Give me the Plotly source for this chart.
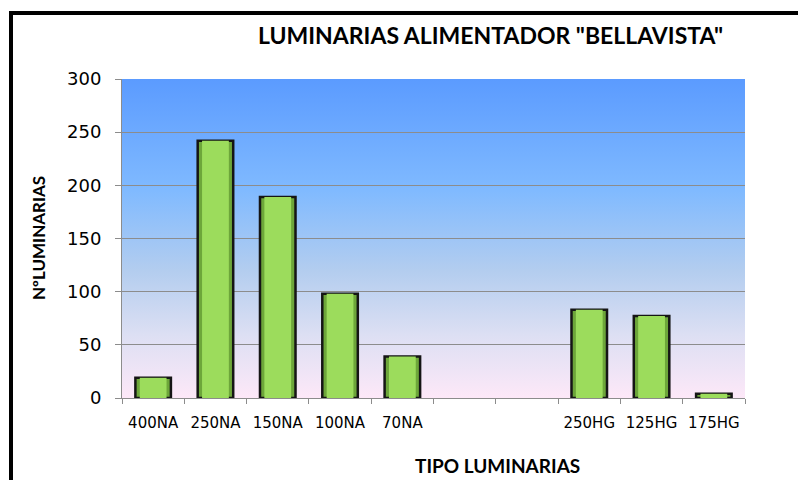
import plotly.graph_objects as go

# datos
tipos = ["400NA", "250NA", "150NA", "100NA", "70NA", " ", "  ", "250HG", "125HG", "175HG"]
cantidades = [19, 242, 189, 98, 39, None, None, 83, 77, 4]

titulo = 'LUMINARIAS ALIMENTADOR "BELLAVISTA"'
titulo_x = "TIPO LUMINARIAS"
titulo_y = "NºLUMINARIAS"

W, H = 806, 480
OFF = 8  # margen del body de la página
ML, MR, MT, MB = 122 - OFF, 61 + OFF, 79 - OFF, 82 + OFF
PW, PH = W - ML - MR, H - MT - MB


# pasar píxeles de la captura a coordenadas "paper"
def px_x(px):
    return (px - OFF - ML) / PW


def px_y(py):
    return (H - MB - (py - OFF)) / PH


# fondo degradado (azul arriba, rosado abajo)
svg = (
    "<svg xmlns='http://www.w3.org/2000/svg' width='10' height='100' preserveAspectRatio='none'>"
    "<defs><linearGradient id='g' x1='0' y1='0' x2='0' y2='1'>"
    "<stop offset='0' stop-color='#5b9bff'/>"
    "<stop offset='0.35' stop-color='#80baff'/>"
    "<stop offset='0.6' stop-color='#b3cdef'/>"
    "<stop offset='0.8' stop-color='#dcdff3'/>"
    "<stop offset='1' stop-color='#fde8f8'/>"
    "</linearGradient></defs>"
    "<rect width='10' height='100' fill='url(#g)'/></svg>"
)
svg_uri = "data:image/svg+xml;utf8," + svg.replace("#", "%23").replace("<", "%3C").replace(">", "%3E")

fig = go.Figure()
# barra exterior (borde negro + laterales verde oscuro)
fig.add_trace(
    go.Bar(
        x=tipos,
        y=cantidades,
        marker=dict(color="#6da63a", line=dict(color="#151515", width=2.5)),
        width=0.57,
        hoverinfo="x+y",
    )
)
# parte central más clara (efecto biselado)
fig.add_trace(
    go.Bar(
        x=tipos,
        y=cantidades,
        marker=dict(color="#9cdc5c", line=dict(width=0)),
        width=0.43,
        hoverinfo="skip",
    )
)

fig.update_layout(
    width=W,
    height=H,
    margin=dict(l=ML, r=MR, t=MT, b=MB),
    paper_bgcolor="white",
    plot_bgcolor="rgba(0,0,0,0)",
    showlegend=False,
    barmode="overlay",
    images=[
        dict(
            source=svg_uri,
            xref="paper", yref="paper",
            x=0, y=1, sizex=1, sizey=1,
            sizing="stretch", xanchor="left", yanchor="top",
            layer="below",
        )
    ],
    shapes=[
        # marco negro exterior
        dict(
            type="rect", xref="paper", yref="paper",
            x0=px_x(11), x1=px_x(830), y0=px_y(13), y1=px_y(520),
            line=dict(color="black", width=4),
        )
    ],
    annotations=[
        dict(
            text=titulo, xref="paper", yref="paper",
            x=px_x(490), y=px_y(35), showarrow=False,
            xanchor="center", yanchor="middle",
            font=dict(family="Lato", size=23, color="black", weight="bold"),
        ),
        dict(
            text=titulo_x, xref="paper", yref="paper",
            x=px_x(497), y=px_y(465), showarrow=False,
            xanchor="center", yanchor="middle",
            font=dict(family="Lato", size=19, color="black", weight="bold"),
        ),
        dict(
            text=titulo_y, xref="paper", yref="paper",
            x=px_x(38), y=px_y(238), showarrow=False, textangle=-90,
            xanchor="center", yanchor="middle",
            font=dict(family="Lato", size=17, color="black", weight="bold"),
        ),
    ],
)

fig.update_xaxes(
    type="category",
    showline=True, linecolor="#8c8c8c", linewidth=1,
    ticks="outside", tickson="boundaries", ticklen=5, tickcolor="#8c8c8c",
    tickfont=dict(family="DejaVu Sans", size=15, color="black"),
    ticklabelstandoff=11,
    showgrid=False,
)
fig.update_yaxes(
    range=[0, 300], dtick=50,
    showline=True, linecolor="#8c8c8c", linewidth=1,
    ticks="outside", ticklen=6, tickcolor="#8c8c8c",
    gridcolor="#8c8c8c", gridwidth=1, zeroline=False,
    tickfont=dict(family="DejaVu Sans", size=18, color="black"),
    ticklabelstandoff=10,
)

fig.write_html("out.html")
